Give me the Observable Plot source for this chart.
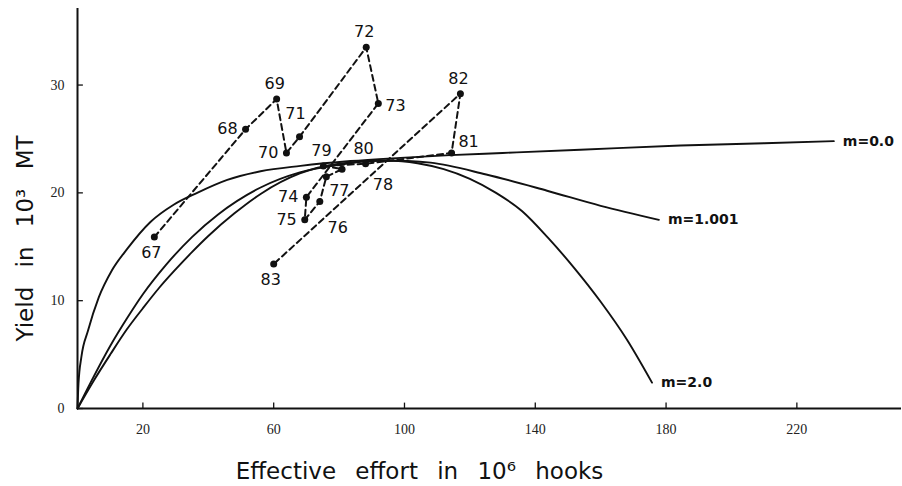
<!DOCTYPE html>
<html><head><meta charset="utf-8">
<script src="https://cdn.jsdelivr.net/npm/d3@7"></script>
<script src="https://cdn.jsdelivr.net/npm/@observablehq/plot@0.6"></script>
<style>body{margin:0;background:#fff}</style>
</head><body><div id="chart"></div>
<script>
// Observed yearly points
const years = ["67","68","69","70","71","72","73","74","75","76","77","78","79","80","81","82","83"];
const effort = [23.5,51.4,60.9,63.9,67.9,88.3,92.0,70.0,69.5,74.1,76.1,80.9,75.2,88.1,114.4,117.1,60.0];
const yieldObs = [15.9,25.9,28.7,23.7,25.2,33.5,28.3,19.6,17.5,19.2,21.5,22.2,22.5,22.7,23.7,29.2,13.4];
const labelSide = ["below","left","above","left","above2","above","right","left","left","lowright","belowright","farright","above","above","aboveright","above","below"];

// Model curves
const m0Effort = [0,0.3,1.2,3.2,6.5,10.5,15.2,22.3,29.4,36.6,45.8,56.0,68.2,83.5,98.8,114,130,153.8,184.4,210,231.3];
const m0Yield  = [0,2.3,4.8,7.2,10.3,12.8,14.8,17.3,18.9,20.0,21.2,22.0,22.5,22.95,23.25,23.5,23.7,24.0,24.4,24.6,24.8];
const m1Effort = [0,4,10,15,20,27,35,43,56,68,80,92,101,108,125,143.6,160,177.8];
const m1Yield  = [0,2.4,5.8,8.3,10.6,13.3,15.9,18.0,20.5,21.9,22.6,23.0,22.95,22.8,21.7,20.2,18.8,17.5];
const m2Effort = [0,5,10,15,20,25,30,35,40,48,56,68,80,95,104,112,120,128,136,144,152,160,168,175.7];
const m2Yield  = [0,2.6,5.0,7.3,9.3,11.2,12.9,14.5,16.0,18.1,19.9,21.8,22.7,23.0,22.75,22.2,21.3,20.0,18.3,15.8,13.0,9.9,6.4,2.4];
const curveNames = ["m=0.0","m=1.001","m=2.0"];

const xTicks = [20,60,100,140,180,220];
const yTicks = [0,10,20,30];
const xTitle = "Effective effort in 10⁶ hooks";
const yTitle = "Yield in 10³ MT";

const pts = years.map((yr,i)=>({year:yr, effort:effort[i], yld:yieldObs[i], side:labelSide[i]}));
const curves = [
  {name:curveNames[0], xs:m0Effort, ys:m0Yield},
  {name:curveNames[1], xs:m1Effort, ys:m1Yield},
  {name:curveNames[2], xs:m2Effort, ys:m2Yield}
];
const curveRows = curves.flatMap(c=>c.xs.map((x,i)=>({name:c.name, effort:x, yld:c.ys[i]})));
const curveEnds = curves.map(c=>({name:c.name, effort:c.xs[c.xs.length-1], yld:c.ys[c.ys.length-1]}));

const sides = {
  below:{dx:-3,dy:16,anchor:"middle"},
  left:{dx:-8,dy:0,anchor:"end"},
  above:{dx:-2,dy:-15,anchor:"middle"},
  above2:{dx:-4,dy:-23,anchor:"middle"},
  right:{dx:7,dy:2,anchor:"start"},
  lowright:{dx:18,dy:26,anchor:"middle"},
  belowright:{dx:13,dy:14,anchor:"middle"},
  farright:{dx:41,dy:16,anchor:"middle"},
  aboveright:{dx:17,dy:-11,anchor:"middle"}
};
const labelMarks = Object.entries(sides).map(([k,s])=>Plot.text(pts.filter(d=>d.side===k),{
  x:"effort", y:"yld", text:"year", dx:s.dx, dy:s.dy, textAnchor:s.anchor,
  fontSize:16, fontFamily:"DejaVu Sans", fill:"#111"
}));

const chart = Plot.plot({
  width:902, height:486,
  marginLeft:77, marginRight:1, marginTop:8, marginBottom:78,
  x:{domain:[0,252], axis:null},
  y:{domain:[0,37.1], axis:null},
  style:{background:"#fff"},
  marks:[
    Plot.ruleY([0],{stroke:"#111", strokeWidth:2}),
    Plot.ruleX([0],{stroke:"#111", strokeWidth:2}),
    Plot.ruleX(xTicks,{y1:0, y2:0.5, stroke:"#111", strokeWidth:1.3}),
    Plot.ruleY(yTicks,{x1:0, x2:1.8, stroke:"#111", strokeWidth:1.3}),
    Plot.text(xTicks,{x:d=>d, y:0, dy:21, text:d=>String(d), fontSize:14, fontFamily:"Liberation Serif", fill:"#222", letterSpacing:"1.5px"}),
    Plot.text(yTicks,{x:0, y:d=>d, dx:-13, text:d=>String(d), textAnchor:"end", fontSize:14, fontFamily:"Liberation Serif", fill:"#222", letterSpacing:"1.5px"}),
    Plot.line(curveRows,{x:"effort", y:"yld", z:"name", stroke:"#111", strokeWidth:1.9, curve:"monotone-x"}),
    Plot.text(curveEnds,{x:"effort", y:"yld", text:"name", dx:9, textAnchor:"start", fontSize:14, fontFamily:"DejaVu Sans", fontWeight:"bold", fill:"#111"}),
    Plot.line(pts,{x:"effort", y:"yld", stroke:"#111", strokeWidth:2, strokeDasharray:"6,4"}),
    Plot.dot(pts,{x:"effort", y:"yld", r:3.5, fill:"#111", stroke:"none"}),
    ...labelMarks,
    Plot.text([yTitle],{frameAnchor:"left", textAnchor:"middle", lineAnchor:"middle", dx:-52, dy:30, rotate:-90, fontSize:23, fontFamily:"DejaVu Sans", fill:"#111", text:d=>d}),
    Plot.text([xTitle],{frameAnchor:"bottom", textAnchor:"middle", lineAnchor:"middle", dx:-70, dy:63, fontSize:23, fontFamily:"DejaVu Sans", fill:"#111", text:d=>d})
  ]
});
d3.select(chart).selectAll("text").filter(function(){ const t=this.textContent; return t===xTitle||t===yTitle; })
  .style("word-spacing","12px");
document.getElementById("chart").appendChild(chart);
</script>
</body></html>
